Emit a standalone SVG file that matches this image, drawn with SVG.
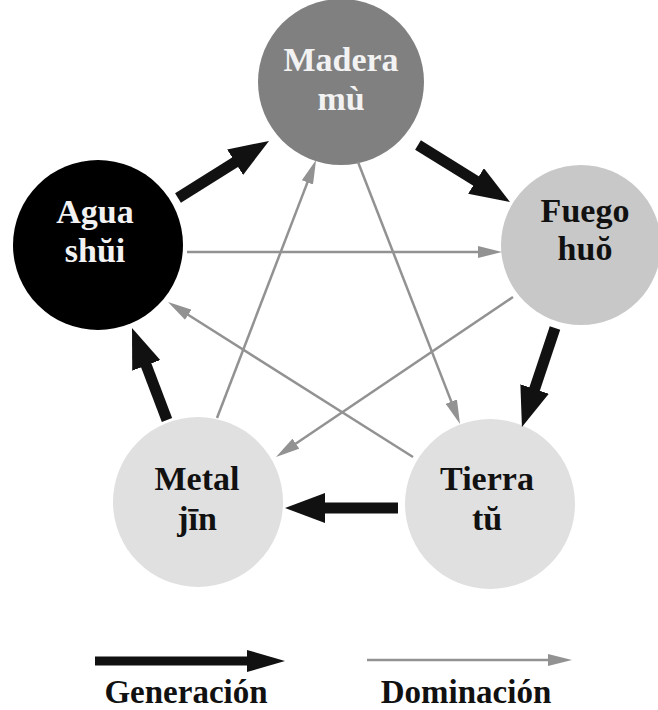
<svg xmlns="http://www.w3.org/2000/svg" width="658" height="710" viewBox="0 0 658 710">
<style>
.lbl{font-family:"Liberation Serif","Times New Roman",serif;font-weight:bold;font-size:33px;text-anchor:middle}
.nd{font-size:34px}
.dk{fill:#111}
.lt{fill:#f2f2f2}
.gen{stroke:#111;stroke-width:11;fill:none}
.dom{stroke:#929292;stroke-width:2.5;fill:none}
</style>
<defs>
<marker id="hg" markerUnits="userSpaceOnUse" markerWidth="40" markerHeight="30" refX="6" refY="15" orient="auto"><path d="M0,0 L40,15 L0,30 Z" fill="#111"/></marker>
<marker id="hgl" markerUnits="userSpaceOnUse" markerWidth="38" markerHeight="22" refX="6" refY="11" orient="auto"><path d="M0,0 L38,11 L0,22 Z" fill="#111"/></marker>
<marker id="hd" markerUnits="userSpaceOnUse" markerWidth="24" markerHeight="12" refX="3" refY="6" orient="auto"><path d="M0,0 L24,6 L0,12 Z" fill="#929292"/></marker>
</defs>
<rect width="658" height="710" fill="#fff"/>
<g id="madera"><circle cx="341" cy="82" r="83" fill="#808080"/><text class="lbl nd lt" x="341" y="71">Madera</text><text class="lbl nd lt" x="341" y="110">mù</text></g>
<g id="agua"><circle cx="98" cy="245" r="85" fill="#000"/><text class="lbl nd lt" x="95" y="223">Agua</text><text class="lbl nd lt" x="95" y="262">shŭi</text></g>
<g id="fuego"><circle cx="581" cy="245" r="80" fill="#c8c8c8"/><text class="lbl nd dk" x="585" y="222">Fuego</text><text class="lbl nd dk" x="585" y="260">huŏ</text></g>
<g id="metal"><circle cx="198" cy="502" r="85" fill="#e0e0e0"/><text class="lbl nd dk" x="197" y="490">Metal</text><text class="lbl nd dk" x="197" y="530">jīn</text></g>
<g id="tierra"><circle cx="490" cy="504" r="85" fill="#e0e0e0"/><text class="lbl nd dk" x="487" y="490">Tierra</text><text class="lbl nd dk" x="487" y="530">tŭ</text></g>
<g id="connectors">
<line class="dom" x1="187" y1="252" x2="481" y2="252" marker-end="url(#hd)"/>
<line class="dom" x1="358" y1="162" x2="452.4" y2="404.4" marker-end="url(#hd)"/>
<line class="dom" x1="513" y1="297" x2="293.4" y2="445.3" marker-end="url(#hd)"/>
<line class="dom" x1="413" y1="457" x2="185.7" y2="313.2" marker-end="url(#hd)"/>
<line class="dom" x1="217" y1="418" x2="308.5" y2="179.6" marker-end="url(#hd)"/>
<line class="gen" x1="178" y1="198" x2="240.2" y2="159" marker-end="url(#hg)"/>
<line class="gen" x1="418" y1="145" x2="481.1" y2="184.1" marker-end="url(#hg)"/>
<line class="gen" x1="555" y1="328" x2="532.7" y2="394.8" marker-end="url(#hg)"/>
<line class="gen" x1="398" y1="508" x2="319" y2="508" marker-end="url(#hg)"/>
<line class="gen" x1="167" y1="420" x2="144.1" y2="359.8" marker-end="url(#hg)"/>
</g>
<g id="legend">
<line class="gen" style="stroke-width:9" x1="95" y1="661" x2="253" y2="661" marker-end="url(#hgl)"/>
<line class="dom" x1="367" y1="660" x2="551" y2="660" marker-end="url(#hd)"/>
<text class="lbl dk" x="186" y="703">Generación</text>
<text class="lbl dk" x="466" y="703">Dominación</text>
</g>
</svg>
